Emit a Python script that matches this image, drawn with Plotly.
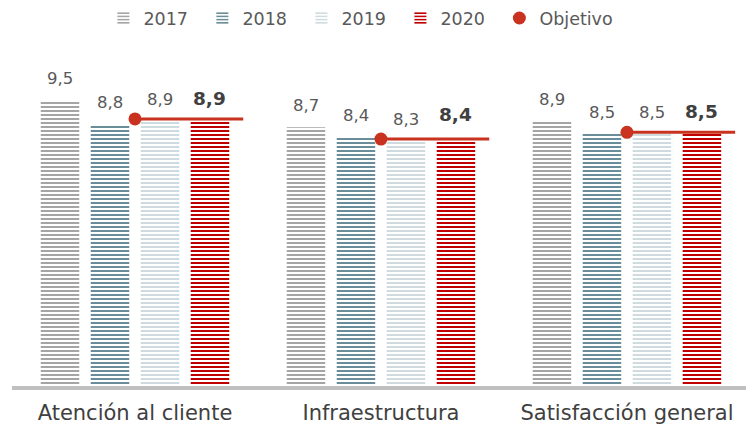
import plotly.graph_objects as go

categories = ["Atención al cliente", "Infraestructura", "Satisfacción general"]
years = ["2017", "2018", "2019", "2020"]
v2017 = [9.5, 8.7, 8.9]
v2018 = [8.8, 8.4, 8.5]
v2019 = [8.9, 8.3, 8.5]
v2020 = [8.9, 8.4, 8.5]
objetivo = [8.95, 8.35, 8.55]

series = [v2017, v2018, v2019, v2020]
colors = ["#a5a5a5", "#6a8d99", "#cfdbdf", "#c00000"]
FONT = "DejaVu Sans"

xpos = list(range(len(categories)))
bargap = 0.187
slot = (1 - bargap) / len(years)

fig = go.Figure()
for name, vals, col in zip(years, series, colors):
    fig.add_trace(go.Bar(
        x=xpos, y=vals, name=name, legendwidth=54,
        marker=dict(color=col, line=dict(width=0),
                    pattern=dict(shape="-", size=4, solidity=0.5,
                                 fgcolor=col, bgcolor="white", fillmode="replace")),
        hoverinfo="skip",
    ))

# Objetivo line segments
lx, ly = [], []
for i, o in zip(xpos, objetivo):
    lx += [i, i + 0.44, None]
    ly += [o, o, None]
fig.add_trace(go.Scatter(x=lx, y=ly, mode="lines", line=dict(color="#c8321e", width=3),
                         showlegend=False, hoverinfo="skip"))
fig.add_trace(go.Scatter(x=xpos, y=objetivo, mode="markers", name="Objetivo",
                         legendwidth=110,
                         marker=dict(color="#c8321e", size=13), hoverinfo="skip"))

# value labels
annotations = []
for k, (vals, name) in enumerate(zip(series, years)):
    bold = name == "2020"
    for i, v in zip(xpos, vals):
        txt = f"{v:.1f}".replace(".", ",")
        annotations.append(dict(
            x=i + (k - 1.5) * slot, y=v, xref="x", yref="y",
            text=f"<b>{txt}</b>" if bold else txt, showarrow=False,
            yanchor="bottom", yshift=10,
            font=dict(family=FONT, size=18.5 if bold else 16.5,
                      color="#404040" if bold else "#595959"),
        ))

fig.update_layout(
    width=746, height=425,
    margin=dict(l=12, r=0, t=45, b=39, autoexpand=False),
    paper_bgcolor="white", plot_bgcolor="white",
    barmode="group", bargap=bargap, bargroupgap=0.23,
    font=dict(family=FONT, color="#595959"),
    legend=dict(orientation="h", x=0.1245, xanchor="left", y=1.026, yanchor="bottom",
                font=dict(family=FONT, size=17.5, color="#595959"),
                itemwidth=30, traceorder="normal"),
    xaxis=dict(tickmode="array", tickvals=xpos, ticktext=categories,
               range=[-0.5, 2.484], showgrid=False, zeroline=False,
               showline=True, linecolor="#c0c0c0", linewidth=4,
               ticks="", ticklabelstandoff=5,
               tickfont=dict(family=FONT, size=21, color="#404040")),
    yaxis=dict(range=[1, 11.15], visible=False, showgrid=False, zeroline=False),
    annotations=annotations,
    showlegend=True,
)

fig.write_html("out.html", config={"displayModeBar": False},
               post_script="document.body.style.margin='0';")
